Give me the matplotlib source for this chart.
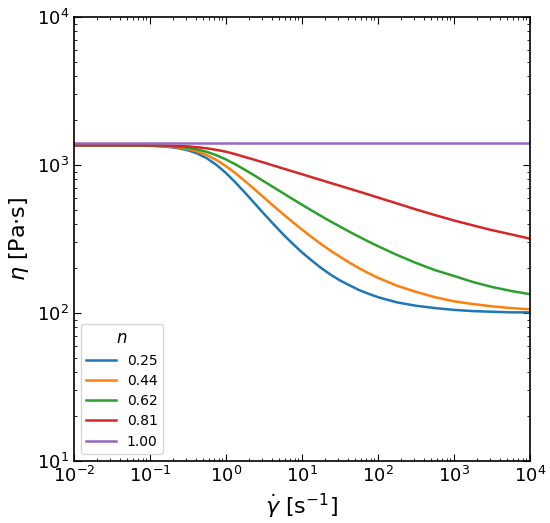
import numpy as np
import matplotlib
matplotlib.use("Agg")
import matplotlib.pyplot as plt

# shear rate grid (log10 of gamma_dot), finer through the shear-thinning knee
log_rate = [-2, -1.5, -1, -0.875, -0.75, -0.625, -0.5, -0.375, -0.25, -0.125,
            0, 0.125, 0.25, 0.375, 0.5, 0.625, 0.75, 0.875, 1, 1.125,
            1.25, 1.375, 1.5, 1.625, 1.75, 1.875, 2, 2.25, 2.5, 2.75,
            3, 3.25, 3.5, 3.75, 4]

n_values = ["0.25", "0.44", "0.62", "0.81", "1.00"]

# viscosity [Pa s]
eta_025 = [1360, 1359, 1348, 1339, 1324, 1298, 1257, 1195, 1109, 1002,
           883, 762, 651, 552, 468, 399, 341, 295, 257, 227,
           202, 182, 166, 154, 143, 135, 128, 118, 112, 108,
           105, 103, 102, 101, 101]
eta_044 = [1360, 1359, 1351, 1344, 1333, 1313, 1282, 1234, 1167, 1082,
           983, 880, 779, 686, 603, 530, 467, 413, 367, 327,
           293, 264, 240, 219, 201, 186, 173, 153, 139, 128,
           120, 115, 111, 108, 106]
eta_062 = [1360, 1359, 1354, 1349, 1341, 1328, 1307, 1273, 1226, 1164,
           1090, 1010, 928, 850, 775, 708, 646, 590, 539, 494,
           453, 416, 384, 354, 328, 304, 283, 247, 218, 195,
           178, 162, 150, 141, 134]
eta_081 = [1360, 1360, 1357, 1355, 1352, 1345, 1336, 1318, 1296, 1266,
           1230, 1183, 1132, 1085, 1038, 992, 948, 906, 867, 828,
           792, 757, 724, 692, 661, 632, 603, 550, 501, 459,
           422, 391, 363, 340, 318]
eta_100 = [1400] * len(log_rate)

curves = [eta_025, eta_044, eta_062, eta_081, eta_100]
colors = ["tab:blue", "tab:orange", "tab:green", "tab:red", "tab:purple"]

rate = 10.0 ** np.array(log_rate)

fig = plt.figure(figsize=(5.5, 5.23), dpi=100)
ax = fig.add_axes([0.1345, 0.1185, 0.829, 0.849])

for eta, c, lab in zip(curves, colors, n_values):
    ax.plot(rate, eta, color=c, lw=1.8, label=lab)

ax.set_xscale("log")
ax.set_yscale("log")
ax.set_xlim(1e-2, 1e4)
ax.set_ylim(1e1, 1e4)

ax.tick_params(which="both", direction="in", top=True, right=True, labelsize=13)
ax.tick_params(which="major", length=5)
ax.tick_params(which="minor", length=2.5)
for s in ax.spines.values():
    s.set_linewidth(1.2)

ax.set_xlabel(r"$\dot{\gamma}$ [s$^{-1}$]", fontsize=16)
ax.set_ylabel(r"$\eta$ [Pa$\cdot$s]", fontsize=16)

leg = ax.legend(title=r"$n$", loc="lower left", fontsize=10, title_fontsize=12,
                handlelength=2.1, borderaxespad=0.5, labelspacing=0.45)

fig.savefig("out.png", dpi=100)
